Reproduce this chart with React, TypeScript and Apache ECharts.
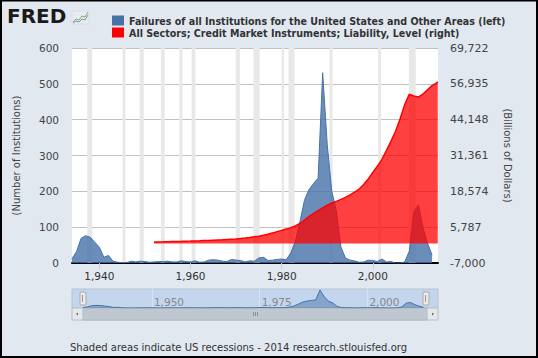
import React, { useEffect, useRef } from "react";
import * as echarts from "echarts";

const failureStartYear = 1934;
const failures = [
  12, 32, 69, 76, 72, 58, 44, 16, 21, 5,
  2, 1, 1, 5, 3, 5, 4, 2, 3, 4,
  4, 5, 3, 3, 6, 4, 3, 6, 2, 3,
  8, 9, 8, 5, 4, 10, 8, 7, 3, 6,
  5, 14, 16, 7, 8, 10, 11, 9, 28, 60,
  115, 175, 205, 222, 237, 531, 330, 200, 145, 45,
  14, 8, 6, 2, 3, 8, 7, 4, 11, 3,
  4, 0, 0, 3, 33, 143, 162, 100, 55, 22,
];

const creditYears = [
  1952, 1953, 1954, 1955, 1956, 1957, 1958, 1959, 1960, 1961,
  1962, 1963, 1964, 1965, 1966, 1967, 1968, 1969, 1970, 1971,
  1972, 1973, 1974, 1975, 1976, 1977, 1978, 1979, 1980, 1981,
  1982, 1983, 1984, 1985, 1986, 1987, 1988, 1989, 1990, 1991,
  1992, 1993, 1994, 1995, 1996, 1997, 1998, 1999, 2000, 2001,
  2002, 2003, 2004, 2005, 2006, 2007, 2008, 2009, 2010, 2011,
  2012, 2013, 2014, 2014.25,
];
const credit = [
  500, 530, 560, 610, 650, 690, 730, 780, 820, 870,
  930, 1000, 1070, 1150, 1230, 1310, 1410, 1510, 1600, 1740,
  1920, 2140, 2370, 2580, 2880, 3260, 3730, 4200, 4650, 5100,
  5600, 6200, 7100, 8300, 9600, 10600, 11700, 12700, 13600, 14400,
  15000, 15700, 16400, 17300, 18300, 19400, 21000, 23000, 25300, 27500,
  30000, 33200, 36500, 40000, 44500, 49500, 53200, 52600, 52200, 53300,
  54800, 56300, 57300, 57700,
];

const recessionStarts = [1937.33, 1945.08, 1948.83, 1953.5, 1957.58, 1960.25, 1969.92, 1973.83, 1980.0, 1981.5, 1990.5, 2001.17, 2007.92];
const recessionEnds = [1938.45, 1945.75, 1949.75, 1954.33, 1958.25, 1961.08, 1970.83, 1975.17, 1980.5, 1982.83, 1991.17, 2001.83, 2009.42];

const mainTicks = [1940, 1960, 1980, 2000];
const navTicks = [1950, 1975, 2000];

const seriesNames = [
  "Failures of all Institutions for the United States and Other Areas (left)",
  "All Sectors; Credit Market Instruments; Liability, Level (right)",
];

const leftMin = 0, leftMax = 600, leftInterval = 100;
const rightMin = -7000, rightMax = 69722, rightInterval = 12787;

export default function App() {
  const ref = useRef<HTMLDivElement>(null);
  useEffect(() => {
    if (!ref.current) return;
    const chart = echarts.init(ref.current, null, { renderer: "svg" });
    const failData = failures.map((v, i) => [failureStartYear + i, v]);
    const creditData = credit.map((v, i) => [creditYears[i], v]);
    const bands = recessionStarts.map((s, i) => [{ xAxis: s }, { xAxis: recessionEnds[i] }]);
    const F = "DejaVu Sans";
    chart.setOption({
      animation: false,
      backgroundColor: "#E1E8F0",
      textStyle: { fontFamily: F },
      legend: {
        orient: "vertical",
        left: 107,
        top: 10,
        itemWidth: 12,
        itemHeight: 10,
        itemGap: 1,
        icon: "rect",
        textStyle: { fontFamily: "DejaVu Sans Condensed", fontWeight: "bold", fontSize: 10.6, color: "#333", lineHeight: 11 },
        data: [
          { name: seriesNames[0], itemStyle: { color: "#4572A7" } },
          { name: seriesNames[1], itemStyle: { color: "#FF0000" } },
        ],
      },
      grid: [
        { left: 72, top: 48, width: 366, height: 215, show: true, backgroundColor: "#FFFFFF", borderWidth: 0 },
        { left: 83, top: 289, width: 346, height: 19, show: false },
      ],
      xAxis: [
        {
          type: "value", gridIndex: 0, min: 1934, max: 2014.3,
          axisLine: { onZero: false, lineStyle: { color: "#000", width: 2 } },
          axisTick: { show: true, length: 6, customValues: mainTicks, lineStyle: { color: "#C0D0E0" } },
          axisLabel: { customValues: mainTicks, color: "#333", fontSize: 10.5, margin: 7 },
          splitLine: { show: false },
        },
        {
          type: "value", gridIndex: 1, min: 1934, max: 2014.3,
          axisLine: { show: false },
          axisTick: { show: false, customValues: navTicks },
          axisLabel: { customValues: navTicks, inside: true, color: "#888", fontSize: 10.5, align: "left", margin: 1, padding: [0, 0, 0, 2] },
          splitLine: { show: true, lineStyle: { color: "#D6E3F3", width: 1 } },
        },
      ],
      yAxis: [
        {
          type: "value", gridIndex: 0, min: leftMin, max: leftMax, interval: leftInterval,
          position: "left",
          name: "(Number of Institutions)", nameLocation: "middle", nameGap: 51, nameRotate: 90,
          nameTextStyle: { color: "#444", fontSize: 10 },
          axisLine: { show: false }, axisTick: { show: false },
          axisLabel: { color: "#444", fontSize: 10.5, margin: 13 },
          splitLine: { lineStyle: { color: "#C0C0C0", width: 1 } },
        },
        {
          type: "value", gridIndex: 0, min: rightMin, max: rightMax, interval: rightInterval,
          position: "right",
          name: "(Billions of Dollars)", nameLocation: "middle", nameGap: 64, nameRotate: -90,
          nameTextStyle: { color: "#444", fontSize: 10 },
          axisLine: { show: false }, axisTick: { show: false },
          axisLabel: { color: "#444", fontSize: 11, margin: 12, formatter: (v: number) => v.toLocaleString("en-US") },
          splitLine: { show: false },
        },
        { type: "value", gridIndex: 1, min: 0, max: 560, show: false, splitLine: { show: false } },
      ],
      series: [
        {
          type: "line", name: "bands", xAxisIndex: 0, yAxisIndex: 0, z: 1,
          data: [[1934, 0]], showSymbol: false, lineStyle: { opacity: 0 }, silent: true,
          markArea: { silent: true, itemStyle: { color: "#E8E8E8" }, data: bands },
        },
        {
          type: "line", name: seriesNames[0], xAxisIndex: 0, yAxisIndex: 0, z: 2,
          data: failData, showSymbol: false, symbol: "none",
          lineStyle: { color: "#4572A7", width: 1 },
          itemStyle: { color: "#4572A7" },
          areaStyle: { color: "#4572A7", opacity: 0.8 },
        },
        {
          type: "line", name: seriesNames[1], xAxisIndex: 0, yAxisIndex: 1, z: 3,
          data: creditData, showSymbol: false, symbol: "none",
          lineStyle: { color: "#FF0000", width: 1.5 },
          itemStyle: { color: "#FF0000" },
          areaStyle: { color: "#FF0000", opacity: 0.75 },
        },
        {
          type: "line", name: "nav", xAxisIndex: 1, yAxisIndex: 2, z: 3,
          data: failData, showSymbol: false, symbol: "none", silent: true,
          lineStyle: { color: "#4572A7", width: 1 },
          areaStyle: { color: "#4572A7", opacity: 0.5 },
        },
      ],
      graphic: [
        { type: "rect", z: -1, shape: { x: 72, y: 289, width: 366, height: 19 }, style: { fill: "#C3D6EE", stroke: "#B8C4D0", lineWidth: 1 } },
        { type: "rect", z: 0, shape: { x: 72, y: 308, width: 366, height: 12 }, style: { fill: "#E4E8EC", stroke: "#B8BEC4", lineWidth: 1 } },
        { type: "rect", z: 0, shape: { x: 83, y: 308, width: 344, height: 12 }, style: { fill: "#BFC7D0", stroke: "#B0B8C0", lineWidth: 1 } },
        { type: "line", z: 1, shape: { x1: 253.5, y1: 312, x2: 253.5, y2: 316 }, style: { stroke: "#777", lineWidth: 0.7 } },
        { type: "line", z: 1, shape: { x1: 255.5, y1: 312, x2: 255.5, y2: 316 }, style: { stroke: "#777", lineWidth: 0.7 } },
        { type: "line", z: 1, shape: { x1: 257.5, y1: 312, x2: 257.5, y2: 316 }, style: { stroke: "#777", lineWidth: 0.7 } },
        { type: "polygon", z: 1, shape: { points: [[76, 314], [78, 312.5], [78, 315.5]] }, style: { fill: "#666" } },
        { type: "polygon", z: 1, shape: { points: [[434, 314], [432, 312.5], [432, 315.5]] }, style: { fill: "#666" } },
        { type: "rect", z: 5, shape: { x: 80, y: 292, width: 6, height: 13, r: 1 }, style: { fill: "#EBEBEB", stroke: "#AAAAAA", lineWidth: 1 } },
        { type: "line", z: 6, shape: { x1: 82.5, y1: 295, x2: 82.5, y2: 302 }, style: { stroke: "#999", lineWidth: 1 } },
        { type: "rect", z: 5, shape: { x: 423, y: 292, width: 6, height: 13, r: 1 }, style: { fill: "#EBEBEB", stroke: "#AAAAAA", lineWidth: 1 } },
        { type: "line", z: 6, shape: { x1: 425.5, y1: 295, x2: 425.5, y2: 302 }, style: { stroke: "#999", lineWidth: 1 } },
        { type: "text", z: 5, left: 7, top: 6, style: { text: "FRED", font: "bold 20px 'DejaVu Sans'", fill: "#1A1A1A" } },
        { type: "rect", z: 5, shape: { x: 72, y: 11, width: 17, height: 13 }, style: { fill: "#E8ECF0", stroke: "#D0D6DC", lineWidth: 0.5 } },
        { type: "polyline", z: 6, shape: { points: [[73, 22], [76, 19], [79, 20], [82, 16], [85, 17], [88, 12]] }, style: { stroke: "#7FB06A", lineWidth: 1, fill: "none" } },
        { type: "polyline", z: 6, shape: { points: [[73, 23], [76, 21], [79, 22], [82, 19], [85, 20], [88, 15]] }, style: { stroke: "#7A96B8", lineWidth: 1, fill: "none" } },
        { type: "text", z: 5, left: 70, top: 342, style: { text: "Shaded areas indicate US recessions - 2014 research.stlouisfed.org", font: "10px 'DejaVu Sans'", fill: "#333" } },
        { type: "rect", z: 10, shape: { x: 1, y: 0.5, width: 536, height: 356.5 }, style: { fill: "none", stroke: "#000", lineWidth: 2 } },
      ],
    });
    return () => chart.dispose();
  }, []);
  return <div ref={ref} style={{ position: "fixed", left: 0, top: 0, width: 538, height: 358 }} />;
}
